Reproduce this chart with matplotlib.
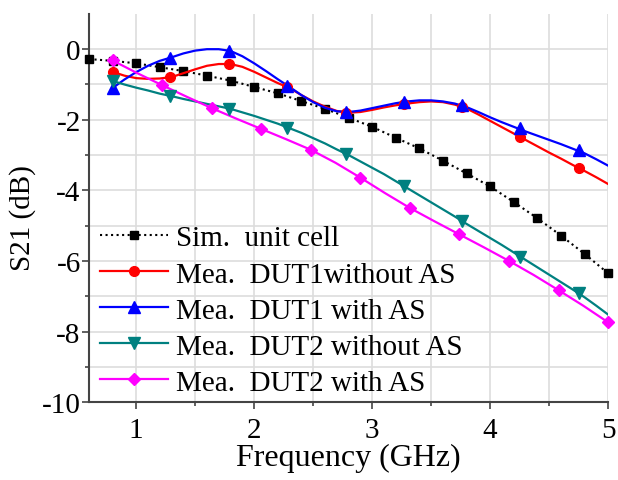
import numpy as np
import matplotlib
matplotlib.use("Agg")
import matplotlib.pyplot as plt
from matplotlib.lines import Line2D

plt.rcParams['font.family'] = ['Liberation Serif', 'DejaVu Serif']
plt.rcParams['axes.unicode_minus'] = False

# simulated unit cell
sim_f = [0.6, 0.8, 1.0, 1.2, 1.4, 1.6, 1.8, 2.0, 2.2, 2.4, 2.6, 2.8, 3.0,
         3.2, 3.4, 3.6, 3.8, 4.0, 4.2, 4.4, 4.6, 4.8, 5.0]
sim_s21 = [-0.28, -0.33, -0.40, -0.51, -0.62, -0.75, -0.89, -1.07, -1.25, -1.47,
           -1.69, -1.94, -2.20, -2.51, -2.81, -3.16, -3.52, -3.89, -4.33, -4.79,
           -5.28, -5.80, -6.35]

# measured curves (line points)
f_meas = [0.8, 0.9, 1.0, 1.1, 1.2, 1.3, 1.4, 1.5, 1.6, 1.7, 1.8, 1.9, 2.0, 2.1,
          2.2, 2.3, 2.4, 2.5, 2.6, 2.7, 2.8, 2.9, 3.0, 3.1, 3.2, 3.3, 3.4, 3.5,
          3.6, 3.7, 3.8, 3.9, 4.0, 4.1, 4.2, 4.3, 4.4, 4.5, 4.6, 4.7, 4.8, 4.9, 5.0]
dut1_noas = [-0.64, -0.75, -0.82, -0.84, -0.83, -0.79, -0.68, -0.57, -0.47, -0.42,
             -0.42, -0.50, -0.64, -0.80, -0.96, -1.10, -1.30, -1.48, -1.63, -1.75,
             -1.80, -1.78, -1.72, -1.65, -1.59, -1.54, -1.50, -1.48, -1.50, -1.57,
             -1.68, -1.85, -2.03, -2.21, -2.39, -2.57, -2.75, -2.93, -3.10, -3.28,
             -3.45, -3.63, -3.82]
dut1_as = [-1.10, -0.86, -0.65, -0.47, -0.33, -0.23, -0.12, -0.04, 0.00, 0.00,
           -0.05, -0.20, -0.40, -0.62, -0.85, -1.07, -1.30, -1.50, -1.66, -1.76,
           -1.78, -1.74, -1.67, -1.60, -1.53, -1.48, -1.45, -1.45, -1.48, -1.54,
           -1.64, -1.78, -1.93, -2.07, -2.20, -2.33, -2.45, -2.57, -2.69, -2.82,
           -2.95, -3.12, -3.30]
dut2_noas = [-0.90, -1.00, -1.09, -1.17, -1.26, -1.33, -1.41, -1.48, -1.55, -1.62,
             -1.69, -1.79, -1.89, -2.00, -2.11, -2.24, -2.37, -2.52, -2.67, -2.84,
             -3.00, -3.18, -3.36, -3.54, -3.74, -3.94, -4.14, -4.34, -4.54, -4.74,
             -4.95, -5.15, -5.35, -5.55, -5.76, -5.97, -6.18, -6.39, -6.60, -6.81,
             -7.03, -7.27, -7.52]
f_dut2_as = [0.8, 1.01, 1.22, 1.43, 1.64, 1.85, 2.06, 2.27, 2.48, 2.69, 2.9,
             3.11, 3.32, 3.53, 3.74, 3.95, 4.16, 4.37, 4.58, 4.79, 5.0]
dut2_as = [-0.32, -0.68, -1.02, -1.35, -1.67, -1.97, -2.26, -2.55, -2.85, -3.22,
           -3.64, -4.08, -4.50, -4.88, -5.25, -5.62, -6.00, -6.40, -6.83, -7.27, -7.74]

# marker positions
mk_f = [0.8, 1.29, 1.79, 2.28, 2.78, 3.27, 3.76, 4.25, 4.75]
mk_dut1_noas = [-0.64, -0.80, -0.42, -1.07, -1.80, -1.56, -1.64, -2.48, -3.37]
mk_dut1_as = [-1.11, -0.24, -0.04, -1.04, -1.78, -1.49, -1.57, -2.23, -2.85]
mk_dut2_noas = [-0.90, -1.33, -1.69, -2.22, -2.97, -3.88, -4.88, -5.88, -6.92]

labels = ['Sim.  unit cell', 'Mea.  DUT1without AS', 'Mea.  DUT1 with AS',
          'Mea.  DUT2 without AS', 'Mea.  DUT2 with AS']

fig = plt.figure(figsize=(6.18, 4.81), dpi=100)
ax = fig.add_axes([0.144, 0.162, 0.840, 0.807])

ax.plot(sim_f, sim_s21, color='black', ls=':', lw=1.5, marker='s', ms=6,
        clip_on=False, zorder=3)

ax.plot(f_meas, dut1_noas, color='#ff0000', lw=1.6, zorder=3)
ax.plot(mk_f, mk_dut1_noas, ls='none', color='#ff0000', marker='o', ms=7, zorder=4)
ax.plot(f_meas, dut1_as, color='#0000ff', lw=1.6, zorder=3)
ax.plot(mk_f, mk_dut1_as, ls='none', color='#0000ff', marker='^', ms=8, zorder=4)
ax.plot(f_meas, dut2_noas, color='#008080', lw=1.6, zorder=3)
ax.plot(mk_f, mk_dut2_noas, ls='none', color='#008080', marker='v', ms=8, zorder=4)
ax.plot(f_dut2_as, dut2_as, color='#ff00ff', lw=1.6, marker='D', ms=6,
        markevery=2, clip_on=False, zorder=3)

handles = [
    Line2D([], [], color='black', ls=':', lw=1.5, marker='s', ms=6),
    Line2D([], [], color='#ff0000', lw=1.6, marker='o', ms=7),
    Line2D([], [], color='#0000ff', lw=1.6, marker='^', ms=8),
    Line2D([], [], color='#008080', lw=1.6, marker='v', ms=8),
    Line2D([], [], color='#ff00ff', lw=1.6, marker='D', ms=6),
]
ax.legend(handles, labels, loc='lower left', bbox_to_anchor=(-0.019, -0.036),
          frameon=False, fontsize=21, handlelength=2.35, handletextpad=0.27,
          labelspacing=0.33, borderpad=0.2)

ax.set_xlim(0.6, 5)
ax.set_ylim(-10, 1)
ax.set_xticks([1, 2, 3, 4, 5])
ax.set_xticks(np.arange(1.5, 5, 1.0), minor=True)
ax.set_yticks([0, -2, -4, -6, -8, -10])
ax.set_yticks([-1, -3, -5, -7, -9], minor=True)
ax.grid(True, which='both', color='#dddddd', lw=1.2, zorder=0)
ax.set_axisbelow(True)
for s in ['top', 'right']:
    ax.spines[s].set_visible(False)
for s in ['left', 'bottom']:
    ax.spines[s].set_color('#444444')
    ax.spines[s].set_linewidth(1.5)
ax.tick_params(which='major', direction='out', length=5, width=1.2,
               labelsize=21, color='#444444')
ax.tick_params(axis='y', which='major', pad=1)
ax.tick_params(axis='x', which='major', pad=6)
ax.tick_params(which='minor', direction='out', length=3, width=1.2, color='#444444')

ax.set_xlabel('Frequency (GHz)', fontsize=23, labelpad=0)
ax.set_ylabel('S21 (dB)', fontsize=21, labelpad=4)
ax.yaxis.label.set_y(0.476)

fig.savefig('out.png', dpi=100)
